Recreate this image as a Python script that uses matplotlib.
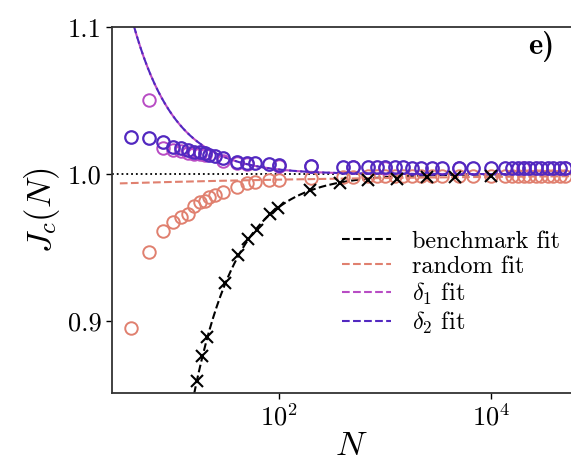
import numpy as np
import matplotlib
matplotlib.use('Agg')
import matplotlib.pyplot as plt
from matplotlib.lines import Line2D

plt.rcParams['font.family'] = 'cmr10'
plt.rcParams['mathtext.fontset'] = 'cm'
plt.rcParams['axes.formatter.use_mathtext'] = True

# benchmark (crosses)
N_bench = [17, 19, 21, 31, 41, 51, 62, 82, 98, 196, 380, 700, 1300, 2500, 4600, 10000]
J_bench = [0.859, 0.876, 0.889, 0.926, 0.945, 0.956, 0.962, 0.973, 0.977, 0.989,
           0.994, 0.996, 0.997, 0.998, 0.998, 0.999]

# random / delta1 / delta2 (circles)
N_small = [4, 6, 8, 10, 12, 14, 16, 18, 20, 22, 25, 30, 40, 50, 60, 80, 100]
N_large = [200, 400, 500, 700, 850, 1000, 1250, 1500, 1800, 2200, 2800, 3500, 5000,
           6800, 10000, 13500, 16000, 18000, 20500, 23000, 26500, 30000, 34500,
           39000, 45000, 50000]

J_random_small = [0.895, 0.947, 0.961, 0.9676, 0.971, 0.973, 0.978, 0.981, 0.982,
                  0.9846, 0.9857, 0.988, 0.9914, 0.9937, 0.9948, 0.9959, 0.9959]
J_random_large = [0.9975, 0.998, 0.998, 0.9985, 0.9985, 0.9985, 0.999, 0.999, 0.999,
                  0.999, 0.999, 0.999, 0.999, 0.999, 0.999, 0.999, 0.999, 0.999,
                  0.999, 0.999, 0.999, 0.999, 0.999, 0.999, 0.999, 0.999]

J_d2_small = [1.0254, 1.0243, 1.0220, 1.0186, 1.0177, 1.0163, 1.0152, 1.0152, 1.0143,
              1.0130, 1.0120, 1.0107, 1.0084, 1.0075, 1.0075, 1.0070, 1.0061]
J_d2_large = [1.0055, 1.0050, 1.0050, 1.0048, 1.0048, 1.0048, 1.0046, 1.0046, 1.0045,
              1.0045, 1.0044, 1.0044, 1.0043, 1.0042, 1.0042, 1.0041, 1.0041, 1.0041,
              1.0040, 1.0040, 1.0040, 1.0040, 1.0040, 1.0040, 1.0040, 1.0040]

N_d1 = [6, 8, 10, 12, 14, 16, 18, 20, 30, 40, 50, 100, 200, 500, 1000, 5000, 20000, 50000]
J_d1 = [1.0503, 1.0175, 1.0165, 1.0155, 1.0145, 1.0140, 1.0135, 1.0130, 1.0090,
        1.0078, 1.0070, 1.0058, 1.0052, 1.0047, 1.0045, 1.0042, 1.0040, 1.0040]

# fit coefficients, J = 1 + a / N**b
fit_bench = (-2.58, 1.03)
fit_random = (-0.0075, 0.15)
fit_d1 = (0.5, 1.1)
fit_d2 = (0.5, 1.1)

c_rand = '#e0806f'
c_d1 = '#b84cc4'
c_d2 = '#5228c0'

fig = plt.figure(figsize=(5.71, 4.69), dpi=100)
ax = fig.add_axes([0.196, 0.162, 0.837, 0.780])

Nf = np.logspace(0.5, 5, 400)
ax.axhline(1.0, color='black', ls=':', lw=1.3, zorder=1)

ax.plot(N_small + N_large, J_random_small + J_random_large, 'o', mfc='none', mec=c_rand,
        ms=9, mew=1.4, zorder=3)
ax.plot(N_d1, J_d1, 'o', mfc='none', mec=c_d1, ms=9, mew=1.4, zorder=3)
ax.plot(N_small + N_large, J_d2_small + J_d2_large, 'o', mfc='none', mec=c_d2,
        ms=9, mew=1.6, zorder=4)
ax.plot(N_bench, J_bench, 'x', color='black', ms=9, mew=1.5, zorder=5)

ax.plot(Nf, 1 + fit_bench[0] / Nf**fit_bench[1], '--', color='black', lw=1.5, zorder=2)
ax.plot(Nf, 1 + fit_random[0] / Nf**fit_random[1], '--', color=c_rand, lw=1.5, zorder=2)
ax.plot(Nf, 1 + fit_d1[0] / Nf**fit_d1[1], '--', color=c_d1, lw=1.5, zorder=2)
ax.plot(Nf, 1 + fit_d2[0] / Nf**fit_d2[1], color=c_d2, lw=1.5,
        ls=(2.6, (3.7, 1.6)), zorder=2)

ax.set_xscale('log')
ax.set_xlim(10**0.425, 10**4.935)
ax.set_ylim(0.851, 1.1)
ax.set_xticks([1e2, 1e4])
ax.xaxis.set_minor_locator(matplotlib.ticker.NullLocator())
ax.set_yticks([0.9, 1.0, 1.1])
ax.set_yticklabels(['0.9', '1.0', '1.1'])
ax.tick_params(labelsize=19, length=4, width=1)
for s in ax.spines.values():
    s.set_linewidth(1.3)
    s.set_color('#333333')

ax.set_xlabel(r'$N$', fontsize=25, labelpad=0)
ax.set_ylabel(r'$J_c(N)$', fontsize=25, labelpad=4)

handles = [Line2D([], [], color=c, ls='--', lw=1.5) for c in ['black', c_rand, c_d1, c_d2]]
labels = ['benchmark fit', 'random fit', r'$\delta_1$ fit', r'$\delta_2$ fit']
ax.legend(handles, labels, loc='lower left', bbox_to_anchor=(0.461, 0.13), frameon=False,
          fontsize=17.5, handlelength=2.0, handletextpad=0.9, labelspacing=0.12,
          borderaxespad=0)

fig.text(528 / 571, 1 - 47 / 469, 'e)', fontfamily='cmb10', fontsize=22, va='center')

fig.savefig('out.png', dpi=100)
